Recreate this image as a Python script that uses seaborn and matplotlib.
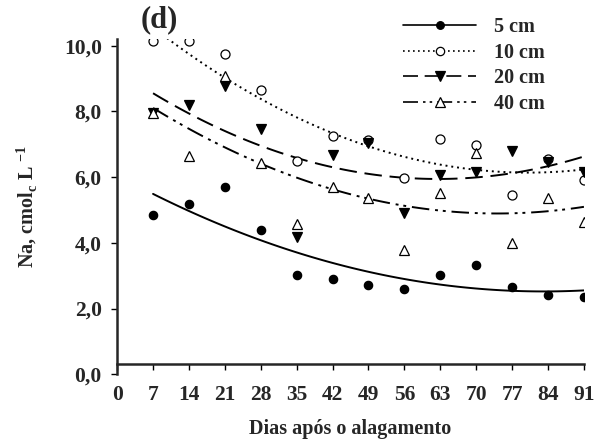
import numpy as np
import pandas as pd
import matplotlib
matplotlib.use("Agg")
import matplotlib.pyplot as plt
from matplotlib.lines import Line2D
import seaborn as sns

days = [7, 14, 21, 28, 35, 42, 49, 56, 63, 70, 77, 84, 91]
na_5cm = [4.85, 5.18, 5.70, 4.39, 3.02, 2.90, 2.72, 2.59, 3.02, 3.32, 2.65, 2.41, 2.35]
na_10cm = [10.15, 10.15, 9.74, 8.64, 6.49, 7.26, 7.13, 5.97, 7.16, 6.98, 5.45, 6.55, 5.91]
na_20cm = [7.95, 8.19, 8.78, 7.46, 4.19, 6.69, 7.03, 4.90, 6.07, 6.17, 6.80, 6.45, 6.17]
na_40cm = [7.95, 6.65, 9.09, 6.42, 4.58, 5.71, 5.38, 3.78, 5.53, 6.73, 4.00, 5.38, 4.64]
labels = ["5 cm", "10 cm", "20 cm", "40 cm"]
xticks = [0, 7, 14, 21, 28, 35, 42, 49, 56, 63, 70, 77, 84, 91]
yticks = [0, 2, 4, 6, 8, 10]
ytick_labels = ["0,0", "2,0", "4,0", "6,0", "8,0", "10,0"]

sns.set_theme(style="ticks")
plt.rcParams["font.family"] = ["Liberation Serif", "DejaVu Serif"]
plt.rcParams["font.weight"] = "bold"
plt.rcParams["mathtext.fontset"] = "custom"
plt.rcParams["mathtext.bf"] = "Liberation Serif:bold"
plt.rcParams["mathtext.rm"] = "Liberation Serif:bold"

df = pd.DataFrame({
    "dia": days * 4,
    "na": na_5cm + na_10cm + na_20cm + na_40cm,
    "prof": sum([[l] * len(days) for l in labels], []),
})

styles = {
    "5 cm": dict(marker="o", mfc="black", ls="-", ms=6),
    "10 cm": dict(marker="o", mfc="white", ls=(0, (1, 2)), ms=6.5),
    "20 cm": dict(marker="v", mfc="black", ls=(0, (9, 4)), ms=7),
    "40 cm": dict(marker="^", mfc="white", ls=(0, (9, 3, 1.5, 2.5, 1.5, 3)), ms=7),
}

fig = plt.figure(figsize=(6.07, 4.46), dpi=100)
ax = fig.add_axes([0.193, 0.161, 0.769, 0.751])

handles = []
for lab in labels:
    st = styles[lab]
    sub = df[df["prof"] == lab]
    sns.regplot(data=sub, x="dia", y="na", order=2, ci=None, ax=ax,
                scatter=False, truncate=True,
                line_kws=dict(color="black", lw=1.4, ls=st["ls"]))
    ax.plot(sub["dia"], sub["na"], ls="none", marker=st["marker"],
            mfc=st["mfc"], mec="black", mew=0.9, ms=st["ms"], zorder=3)
    handles.append(Line2D([0], [0], color="black", lw=1.2, ls=st["ls"],
                          marker=st["marker"], mfc=st["mfc"], mec="black",
                          mew=0.9, ms=st["ms"] - 0.5))

ax.set_xlim(0, 91)
ax.set_ylim(0, 10.2)
ax.spines["top"].set_visible(False)
ax.spines["right"].set_visible(False)
ax.spines["bottom"].set_position(("data", 0.3))
ax.spines["left"].set_linewidth(1.8)
ax.spines["bottom"].set_linewidth(1.8)
ax.set_xticks(xticks)
ax.set_xticklabels([str(t) for t in xticks])
ax.set_yticks(yticks)
ax.set_yticklabels(ytick_labels)
ax.tick_params(axis="both", direction="out", length=4, width=1, color="black",
               labelsize=15.5)
for t in ax.get_xticklabels() + ax.get_yticklabels():
    t.set_fontweight("bold")
ax.tick_params(axis="x", pad=11)
ax.tick_params(axis="y", pad=7)

ax.set_xlabel("Dias após o alagamento", fontsize=14.5, fontweight="bold", labelpad=10)
ax.set_ylabel(r"Na, cmol$_\mathbf{c}$ L $^\mathbf{-1}$", fontsize=14.5, fontweight="bold", labelpad=18)
ax.text(0.05, 1.058, "(d)", transform=ax.transAxes, fontsize=22, fontweight="bold",
        ha="left", va="center")

leg = ax.legend(handles, labels, loc="upper right", bbox_to_anchor=(0.955, 1.12),
                frameon=False, handlelength=3.6, handletextpad=0.9,
                labelspacing=0.28, numpoints=1,
                prop=dict(family="Liberation Serif", weight="bold", size=14.5))

fig.savefig("out.png", dpi=100)
